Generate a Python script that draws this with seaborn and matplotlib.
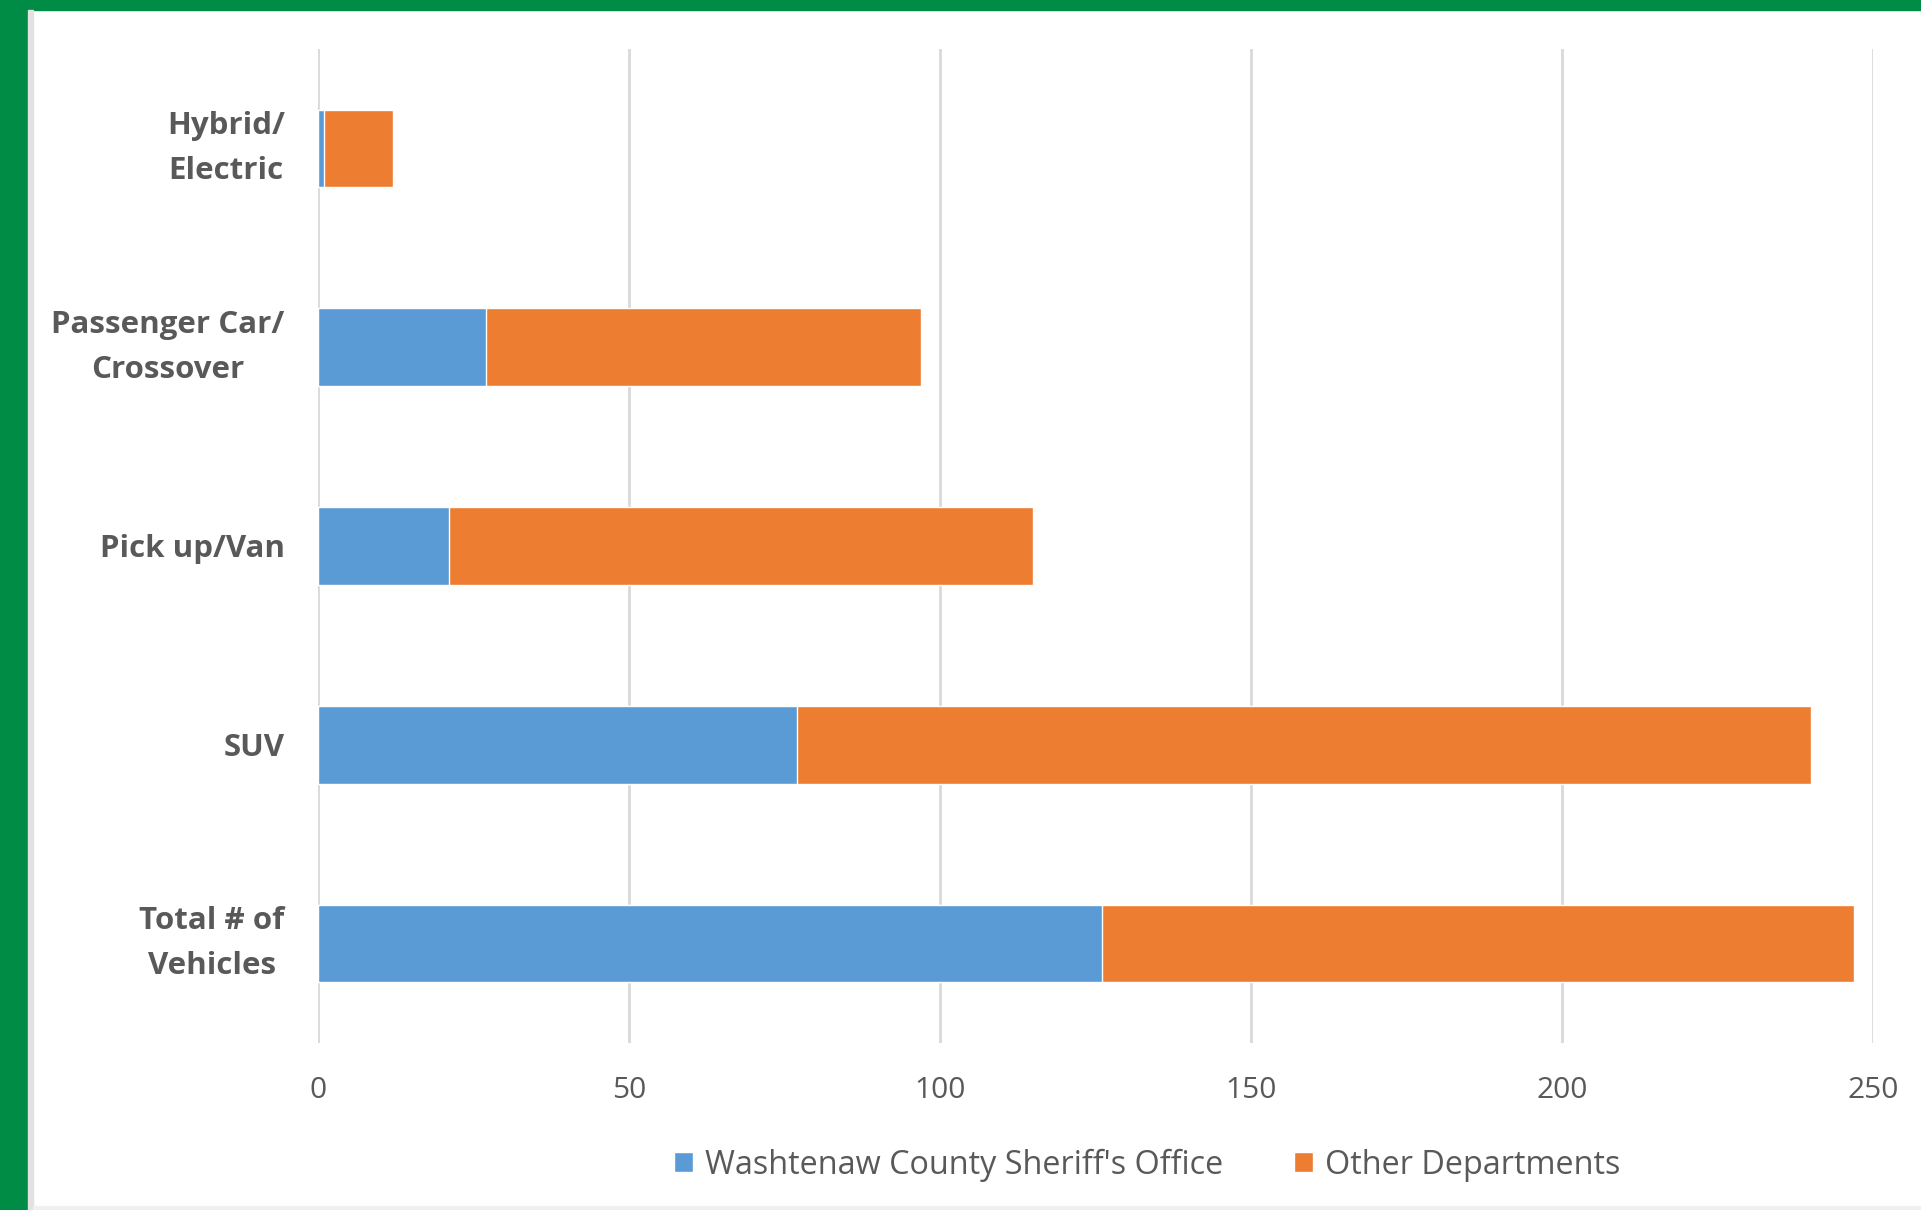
import matplotlib
matplotlib.use("Agg")
import matplotlib.pyplot as plt
from matplotlib.patches import Rectangle
import seaborn as sns
import pandas as pd

# ---- data ----
categories = ["Hybrid/\nElectric", "Passenger Car/\nCrossover", "Pick up/Van", "SUV", "Total # of\nVehicles"]
sheriff = [1, 27, 21, 77, 126]
other = [11, 70, 94, 163, 121]
x_ticks = [0, 50, 100, 150, 200, 250]
series_names = ["Washtenaw County Sheriff's Office", "Other Departments"]

BLUE = "#5B9BD5"
ORANGE = "#ED7D31"
TEXT = "#595959"

sns.set_theme(style="white")
plt.rcParams['font.family'] = ['Open Sans', 'DejaVu Sans']

df = pd.DataFrame({"category": categories, "sheriff": sheriff, "other": other})
df["total"] = df["sheriff"] + df["other"]

W, H = 1921, 1210
fig = plt.figure(figsize=(W / 100, H / 100), dpi=100)
fig.patch.set_facecolor("white")

# green frame (left and top) with slight shadow
fig.patches.append(Rectangle((0, 0), 28 / W, 1, transform=fig.transFigure, color="#008C45", zorder=0))
fig.patches.append(Rectangle((0, 1 - 10 / H), 1, 10 / H, transform=fig.transFigure, color="#008C45", zorder=0))
fig.patches.append(Rectangle((28 / W, 0), 5 / W, 1 - 10 / H, transform=fig.transFigure, color="#E2E2E2", zorder=0))
fig.patches.append(Rectangle((33 / W, 0), 1 - 33 / W, 4 / H, transform=fig.transFigure, color="#F0F0F0", zorder=0))

ax = fig.add_axes([318 / W, 1 - 1043 / H, (1873 - 318) / W, (1043 - 49) / H])
ax.set_facecolor("none")

sns.barplot(data=df, y="category", x="total", orient="h", color=ORANGE, width=0.39,
            saturation=1, ax=ax, label=series_names[1], zorder=2)
sns.barplot(data=df, y="category", x="sheriff", orient="h", color=BLUE, width=0.39,
            saturation=1, ax=ax, label=series_names[0], zorder=3)
if ax.get_legend():
    ax.get_legend().remove()

ax.set_xlim(0, 250)
ax.set_ylim(4.5, -0.5)
ax.set_xticks(x_ticks)
ax.set_xticklabels([str(t) for t in x_ticks])
ax.xaxis.grid(True, color="#D9D9D9", linewidth=2)
ax.yaxis.grid(False)
ax.set_axisbelow(True)
for s in ax.spines.values():
    s.set_visible(False)
ax.set_xlabel("")
ax.set_ylabel("")
ax.tick_params(axis="x", length=0, pad=24, labelsize=21.5, labelcolor=TEXT)
ax.tick_params(axis="y", length=0, pad=24, labelsize=22.5, labelcolor=TEXT)
for lbl in ax.get_yticklabels():
    lbl.set_fontweight("bold")
    lbl.set_multialignment("center")
    lbl.set_linespacing(1.65)
    if "\n" in lbl.get_text():
        lbl.set_verticalalignment("center")

handles = [ax.containers[1], ax.containers[0]]
fig.legend(handles=handles, labels=series_names, loc="center",
           bbox_to_anchor=(1147 / W, 1 - 1165 / H), ncol=2, frameon=False,
           fontsize=23.3, labelcolor=TEXT, handlelength=0.6, handleheight=0.6,
           handletextpad=0.35, columnspacing=2.2)

fig.savefig("out.png", dpi=100, facecolor="white")
